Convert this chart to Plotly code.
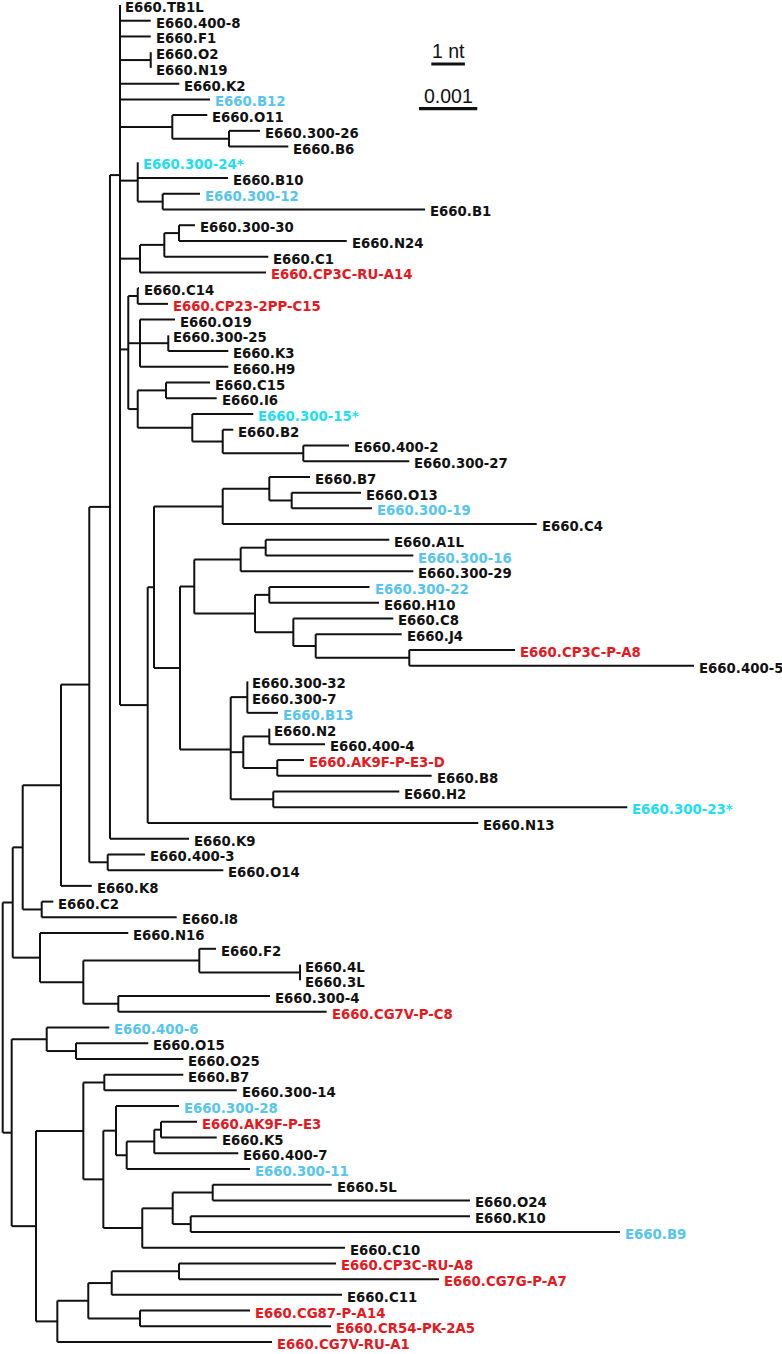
import plotly.graph_objects as go

# ---------------- data (tree) ----------------
# leaves in display order (top -> bottom); depth = distance from root in units of 0.001 subst./site
leaf_names = [
    "E660.TB1L", "E660.400-8", "E660.F1", "E660.O2", "E660.N19", "E660.K2", "E660.B12",
    "E660.O11", "E660.300-26", "E660.B6", "E660.300-24*", "E660.B10", "E660.300-12", "E660.B1",
    "E660.300-30", "E660.N24", "E660.C1", "E660.CP3C-RU-A14", "E660.C14", "E660.CP23-2PP-C15",
    "E660.O19", "E660.300-25", "E660.K3", "E660.H9", "E660.C15", "E660.I6", "E660.300-15*",
    "E660.B2", "E660.400-2", "E660.300-27", "E660.B7", "E660.O13", "E660.300-19", "E660.C4",
    "E660.A1L", "E660.300-16", "E660.300-29", "E660.300-22", "E660.H10", "E660.C8", "E660.J4",
    "E660.CP3C-P-A8", "E660.400-5", "E660.300-32", "E660.300-7", "E660.B13", "E660.N2",
    "E660.400-4", "E660.AK9F-P-E3-D", "E660.B8", "E660.H2", "E660.300-23*", "E660.N13",
    "E660.K9", "E660.400-3", "E660.O14", "E660.K8", "E660.C2", "E660.I8", "E660.N16", "E660.F2",
    "E660.4L", "E660.3L", "E660.300-4", "E660.CG7V-P-C8", "E660.400-6", "E660.O15", "E660.O25",
    "E660.B7", "E660.300-14", "E660.300-28", "E660.AK9F-P-E3", "E660.K5", "E660.400-7",
    "E660.300-11", "E660.5L", "E660.O24", "E660.K10", "E660.B9", "E660.C10", "E660.CP3C-RU-A8",
    "E660.CG7G-P-A7", "E660.C11", "E660.CG87-P-A14", "E660.CR54-PK-2A5", "E660.CG7V-RU-A1",
]
# k = black, b = light blue, c = cyan (starred), r = red
leaf_group = [
    "k", "k", "k", "k", "k", "k", "b", "k", "k", "k", "c", "k", "b", "k",
    "k", "k", "k", "r", "k", "r", "k", "k", "k", "k", "k", "k", "c",
    "k", "k", "k", "k", "k", "b", "k", "k", "b", "k", "b", "k", "k", "k",
    "r", "k", "k", "k", "b", "k", "k", "r", "k", "k", "c", "k",
    "k", "k", "k", "k", "k", "k", "k", "k", "k", "k", "k", "r", "b", "k", "k",
    "k", "k", "b", "r", "k", "k", "b", "k", "k", "k", "b", "k", "r",
    "r", "k", "r", "r", "r",
]
leaf_parent = [
    "n6", "n6", "n6", "n7", "n7", "n6", "n6", "n8", "n9", "n9", "n10", "n10", "n11", "n11",
    "n14", "n14", "n13", "n12", "n16", "n16", "n17", "n18", "n18", "n17", "n20", "n20", "n21",
    "n22", "n23", "n23", "n27", "n28", "n28", "n26", "n32", "n32", "n31", "n34", "n34", "n35",
    "n36", "n37", "n37", "n39", "n39", "n39", "n41", "n41", "n42", "n42", "n43", "n43", "n24",
    "n5", "n44", "n44", "n3", "n45", "n45", "n46", "n48", "n49", "n49", "n50", "n50", "n52",
    "n53", "n53", "n56", "n56", "n58", "n61", "n61", "n60", "n59", "n64", "n64", "n65", "n65",
    "n62", "n69", "n69", "n68", "n70", "n70", "n66",
]
leaf_depth = [
    2.012, 2.539, 2.539, 2.539, 2.539, 3.029, 3.556, 3.509, 4.413, 4.899, 2.316, 3.865, 3.384,
    7.244, 3.298, 5.901, 4.556, 4.516, 2.338, 2.835, 2.955, 2.840, 3.870, 3.870, 3.556, 3.671,
    4.298, 3.955, 5.940, 6.974, 5.271, 6.146, 6.334, 9.160, 6.631, 7.043, 7.043, 6.292, 6.455,
    6.700, 6.844, 8.787, 11.858, 4.196, 4.196, 4.722, 4.573, 5.528, 5.168, 7.358, 6.803, 10.713,
    8.158, 3.196, 2.441, 3.784, 1.527, 0.868, 2.985, 2.154, 3.659, 5.100, 5.100, 4.585, 5.557,
    1.828, 2.497, 3.098, 3.098, 4.014, 3.024, 3.333, 3.671, 4.041, 4.242, 5.643, 8.015, 8.015,
    10.588, 5.871, 5.717, 7.484, 5.820, 4.242, 5.631, 4.619,
]
node_ids = ["n%d" % i for i in range(71)]
node_parent = [
    None, "n0", "n1", "n2", "n3", "n4", "n5", "n6", "n6", "n8", "n6", "n10", "n6", "n12", "n13",
    "n6", "n15", "n15", "n17", "n15", "n19", "n19", "n21", "n22", "n6", "n24", "n25", "n26",
    "n27", "n25", "n29", "n30", "n31", "n30", "n33", "n33", "n35", "n36", "n29", "n38", "n38",
    "n40", "n40", "n38", "n4", "n2", "n1", "n46", "n47", "n48", "n47", "n0", "n51", "n52",
    "n51", "n54", "n55", "n55", "n57", "n58", "n59", "n60", "n57", "n62", "n63", "n63", "n54",
    "n66", "n67", "n68", "n67",
]
node_depth = [
    0.000, 0.172, 0.343, 1.000, 1.485, 1.840, 2.012, 2.539, 2.909, 3.882, 2.316, 2.744, 2.355,
    2.772, 3.024, 2.154, 2.316, 2.355, 2.840, 2.316, 2.801, 3.252, 3.774, 5.156, 2.487, 2.595,
    3.774, 4.573, 4.957, 3.041, 3.286, 4.082, 4.511, 4.328, 4.573, 4.985, 5.369, 6.974, 3.911,
    4.196, 4.127, 4.573, 4.710, 4.641, 1.801, 0.669, 0.640, 1.383, 3.372, 5.100, 1.983, 0.154,
    0.755, 1.257, 0.571, 1.383, 1.743, 1.726, 1.943, 2.127, 2.600, 2.715, 2.394, 2.916, 3.602,
    3.225, 0.937, 1.468, 1.870, 3.024, 2.355,
]
scale_subst = 1.0      # 0.001 substitutions / site
scale_nt = 0.576       # 1 nt in the same units
scale_labels = ["1 nt", "0.001"]

# ---------------- layout helpers ----------------
group_colors = {"k": "#111111", "b": "#55C5F0", "c": "#1DDFF3", "r": "#E8161D"}

children = {nid: [] for nid in node_ids}
for i, p in enumerate(leaf_parent):
    children[p].append(("leaf", i))
for nid, p in zip(node_ids, node_parent):
    if p is not None:
        children[p].append(("node", nid))
ndepth = dict(zip(node_ids, node_depth))
node_y = {}


def y_of(kind, key):
    if kind == "leaf":
        return float(key)
    if key in node_y:
        return node_y[key]
    ys = [y_of(k, c) for k, c in children[key]]
    node_y[key] = sum(ys) / len(ys)
    return node_y[key]


for nid in node_ids:
    y_of("node", nid)

xs, ys = [], []
# horizontal branches
for i, p in enumerate(leaf_parent):
    xs += [ndepth[p], leaf_depth[i], None]
    ys += [i, i, None]
for nid, p in zip(node_ids, node_parent):
    if p is not None:
        xs += [ndepth[p], ndepth[nid], None]
        ys += [node_y[nid], node_y[nid], None]
# vertical connectors
for nid in node_ids:
    cy = [y_of(k, c) for k, c in children[nid]]
    xs += [ndepth[nid], ndepth[nid], None]
    ys += [min(cy), max(cy), None]

fig = go.Figure()
fig.add_trace(go.Scatter(x=xs, y=ys, mode="lines",
                         line=dict(color="#111111", width=2),
                         hoverinfo="skip", showlegend=False, cliponaxis=False))

for i, name in enumerate(leaf_names):
    fig.add_annotation(x=leaf_depth[i], y=i, text=name, showarrow=False,
                       xanchor="left", yanchor="middle", xshift=3, yshift=-2.5,
                       font=dict(family="DejaVu Sans", size=13.3, weight="bold",
                                 color=group_colors[leaf_group[i]]))

# scale bars
bar_center_x = 7.64
bar_y = [3.75, 6.59]
lens = [scale_nt, scale_subst]
for k in range(2):
    fig.add_trace(go.Scatter(x=[bar_center_x - lens[k] / 2, bar_center_x + lens[k] / 2],
                             y=[bar_y[k], bar_y[k]], mode="lines",
                             line=dict(color="#111111", width=3.2),
                             hoverinfo="skip", showlegend=False))
    fig.add_annotation(x=bar_center_x, y=bar_y[k], text=scale_labels[k], showarrow=False,
                       xanchor="center", yanchor="bottom", yshift=0,
                       font=dict(family="Liberation Sans", size=19.5, color="#111111"))

fig.update_layout(
    width=782, height=1354, margin=dict(l=0, r=0, t=0, b=0),
    paper_bgcolor="white", plot_bgcolor="white",
    xaxis=dict(range=[-0.0463, 13.367], visible=False, fixedrange=True),
    yaxis=dict(range=[85.76, -0.318], visible=False, fixedrange=True),
)
fig.write_html("out.html", config={"displayModeBar": False},
               post_script="document.body.style.margin='0px';document.body.style.overflow='hidden';")
